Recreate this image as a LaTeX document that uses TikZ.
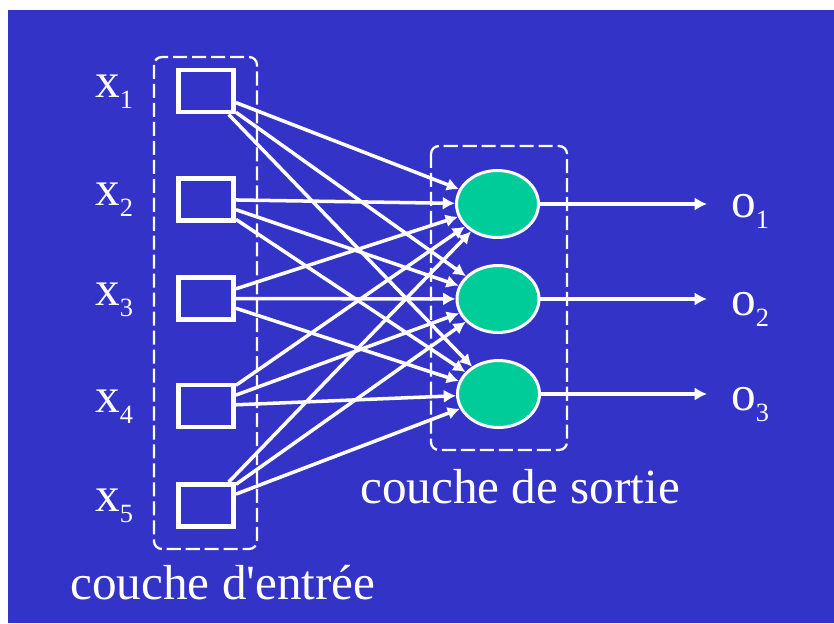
\documentclass[tikz,border=0pt]{standalone}
\usepackage{fontspec}
\setmainfont{Liberation Serif}
\usetikzlibrary{shapes.geometric,arrows.meta}
\definecolor{slideblue}{RGB}{51,51,200}
\definecolor{neurongreen}{RGB}{0,204,153}

\def\subl#1#2{#1\raisebox{-6.8pt}{\fontsize{15}{15}\selectfont #2}}

\begin{document}
\begin{tikzpicture}[x=0.02cm, y=-0.02cm,
    inbox/.style={shape=rectangle, draw=white, line width=2.8pt, minimum width=1.1cm, minimum height=0.84cm, inner sep=0pt},
    neuron/.style={shape=ellipse, draw=white, line width=1.7pt, fill=neurongreen, minimum width=1.64cm, minimum height=1.34cm, inner sep=0pt},
    link/.style={draw=white, line width=2pt, -{Latex[length=7pt,width=7.5pt]}},
    layer/.style={draw=white, line width=1.3pt, dash pattern=on 8pt off 2.8pt, rounded corners=4.5pt},
    lbl/.style={text=white, inner sep=0pt, font=\fontsize{28}{32}\selectfont}]
    \useasboundingbox (0, 0) rectangle (834, 623);
    \path[fill=white] (0, 0) rectangle (834, 623);
    \path[fill=slideblue] (8, 10) rectangle (834, 623);
    % input layer
    \node[inbox] (in1) at (206, 91) {};
    \node[inbox] (in2) at (206, 199.5) {};
    \node[inbox] (in3) at (206, 298.5) {};
    \node[inbox] (in4) at (206, 406) {};
    \node[inbox] (in5) at (206, 505.5) {};
    \node[lbl, anchor=base west] (xl1) at (95, 97) {\subl{x}{1}};
    \node[lbl, anchor=base west] (xl2) at (95, 205) {\subl{x}{2}};
    \node[lbl, anchor=base west] (xl3) at (95, 305) {\subl{x}{3}};
    \node[lbl, anchor=base west] (xl4) at (95, 412) {\subl{x}{4}};
    \node[lbl, anchor=base west] (xl5) at (95, 511) {\subl{x}{5}};
    \path[layer] (154, 57) rectangle (257, 549);
    \node[lbl, anchor=base] (inname) at (223, 599) {couche d\textquotesingle entrée};
    % output layer
    \node[neuron] (out1) at (497.5, 204) {};
    \node[neuron] (out2) at (498, 299) {};
    \node[neuron] (out3) at (498.5, 394) {};
    \path[layer] (431, 146) rectangle (567, 450);
    \node[lbl, anchor=base] (outname) at (520, 503) {couche de sortie};
    % links from every input to every neuron
    \path[link] (in1) -- (out1);
    \path[link] (in1) -- (out2);
    \path[link] (in1) -- (out3);
    \path[link] (in2) -- (out1);
    \path[link] (in2) -- (out2);
    \path[link] (in2) -- (out3);
    \path[link] (in3) -- (out1);
    \path[link] (in3) -- (out2);
    \path[link] (in3) -- (out3);
    \path[link] (in4) -- (out1);
    \path[link] (in4) -- (out2);
    \path[link] (in4) -- (out3);
    \path[link] (in5) -- (out1);
    \path[link] (in5) -- (out2);
    \path[link] (in5) -- (out3);
    % outputs
    \coordinate (end1) at (707, 204);
    \coordinate (end2) at (707, 299);
    \coordinate (end3) at (707, 394);
    \path[link] (out1) -- (end1);
    \path[link] (out2) -- (end2);
    \path[link] (out3) -- (end3);
    \node[lbl, anchor=base west] (ol1) at (731, 217) {\subl{o}{1}};
    \node[lbl, anchor=base west] (ol2) at (731, 315) {\subl{o}{2}};
    \node[lbl, anchor=base west] (ol3) at (731, 410) {\subl{o}{3}};
\end{tikzpicture}
\end{document}
